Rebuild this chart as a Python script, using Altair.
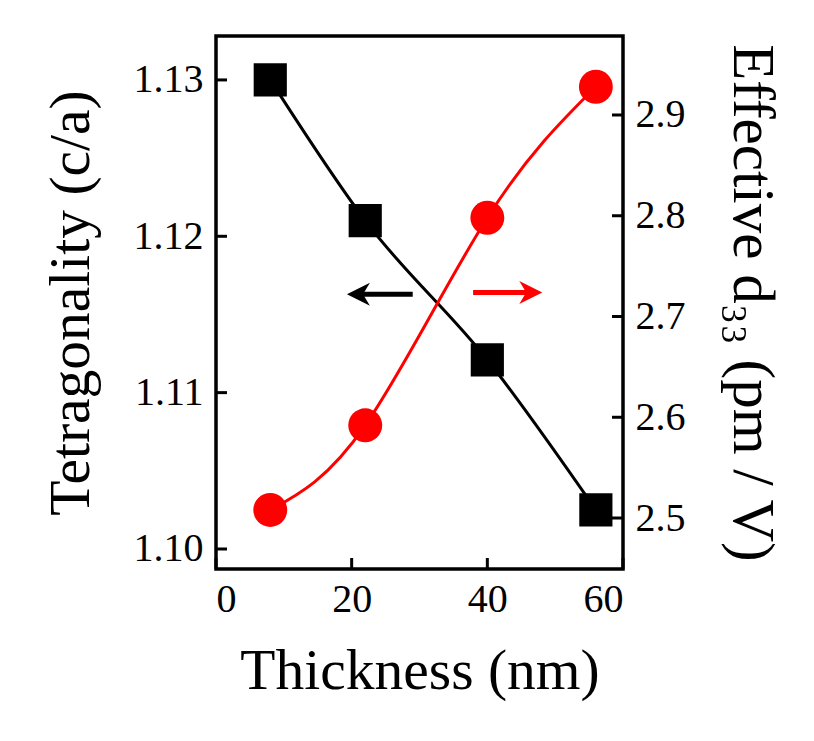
import altair as alt
import pandas as pd

# ---- data ----
thickness = [8, 22, 40, 56]
tetragonality = [1.1300, 1.1210, 1.1121, 1.1025]
d33 = [2.508, 2.592, 2.798, 2.928]

x_ticks = [0, 20, 40, 60]
left_ticks = [1.10, 1.11, 1.12, 1.13]
right_ticks = [2.5, 2.6, 2.7, 2.8, 2.9]

arrow_tail = [29.0, 37.9]
arrow_line_end = [20.6, 46.8]
arrow_tip = [19.3, 48.1]
arrow_level = [1.1163, 1.1164]
arrow_color = ["black", "red"]
arrow_shape = ["M0,0 L1,-0.5 L0.7,0 L1,0.5 Z", "M0,0 L-1,-0.5 L-0.7,0 L-1,0.5 Z"]

W, H = 407, 533
FONT = "Liberation Serif"

main_df = pd.DataFrame({"x": thickness, "tet": tetragonality, "d33": d33})
xt_df = pd.DataFrame({"x": x_ticks})
lt_df = pd.DataFrame({"v": left_ticks})
rt_df = pd.DataFrame({"v": right_ticks})
arrow_df = pd.DataFrame({"x": arrow_tail, "x2": arrow_line_end, "tip": arrow_tip,
                         "y": arrow_level, "c": arrow_color, "shape": arrow_shape})

x_scale = alt.Scale(domain=[0, 60], nice=False, zero=False)
x_axis = alt.Axis(title="Thickness (nm)", values=x_ticks, format="d", ticks=False,
                  domain=False, grid=False, labelPadding=10, titlePadding=24,
                  titleFontSize=57.5)
l_scale = alt.Scale(domain=[1.09872, 1.13281], nice=False, zero=False)
l_axis = alt.Axis(title="Tetragonality (c/a)", values=left_ticks, format=".2f", ticks=False,
                  domain=False, grid=False, labelPadding=13, titlePadding=33,
                  titleFontSize=57.5)
r_scale = alt.Scale(domain=[2.4494, 2.9784], nice=False, zero=False)
r_axis = alt.Axis(title="Effective d₃₃ (pm / V)", orient="right", values=right_ticks,
                  format=".1f", ticks=False, domain=False, grid=False,
                  labelPadding=12, titlePadding=36, titleFontSize=59)


def xe(f="x"):
    return alt.X(f, type="quantitative", scale=x_scale, axis=x_axis)


def ly(f):
    return alt.Y(f, type="quantitative", scale=l_scale, axis=l_axis)


def ry(f):
    return alt.Y(f, type="quantitative", scale=r_scale, axis=r_axis)


base = alt.Chart(main_df)

black_line = base.mark_line(interpolate="monotone", color="black", strokeWidth=3).encode(
    x=xe(), y=ly("tet"))
squares = base.mark_point(shape="square", filled=True, size=1100, color="black",
                          opacity=1).encode(x=xe(), y=ly("tet"))

x_tick_rules = alt.Chart(xt_df).mark_rule(color="black", strokeWidth=3).encode(
    x=xe(), y=alt.value(H), y2=alt.value(H - 11))
l_tick_rules = alt.Chart(lt_df).mark_rule(color="black", strokeWidth=3).encode(
    y=ly("v"), x=alt.value(0), x2=alt.value(11))

arrow_lines = alt.Chart(arrow_df).mark_rule(strokeWidth=5).encode(
    x=xe(), x2="x2:Q", y=ly("y"), color=alt.Color("c:N", scale=None))
arrow_heads = alt.Chart(arrow_df).mark_point(filled=True, size=2116, opacity=1).encode(
    x=xe("tip"), y=ly("y"), color=alt.Color("c:N", scale=None),
    shape=alt.Shape("shape:N", scale=None))

left = alt.layer(black_line, squares, l_tick_rules, x_tick_rules, arrow_lines, arrow_heads)

red_line = base.mark_line(interpolate="natural", color="#ff0000", strokeWidth=3).encode(
    x=xe(), y=ry("d33"))
circles = base.mark_point(shape="circle", filled=True, size=1150, color="#ff0000",
                          opacity=1).encode(x=xe(), y=ry("d33"))
r_tick_rules = alt.Chart(rt_df).mark_rule(color="black", strokeWidth=3).encode(
    y=ry("v"), x=alt.value(W - 11), x2=alt.value(W))

right = alt.layer(red_line, circles, r_tick_rules)

chart = alt.layer(left, right).resolve_scale(y="independent").properties(
    width=W, height=H,
    autosize=alt.AutoSizeParams(type="none"),
    padding={"left": 208, "top": 28, "right": 183, "bottom": 164},
).configure_view(stroke="black", strokeWidth=3.5).configure_axis(
    labelFont=FONT, labelFontSize=40, labelColor="black",
    titleFont=FONT, titleFontWeight="normal", titleColor="black",
)

chart.save("out.html", embed_options={"renderer": "svg", "actions": False})
